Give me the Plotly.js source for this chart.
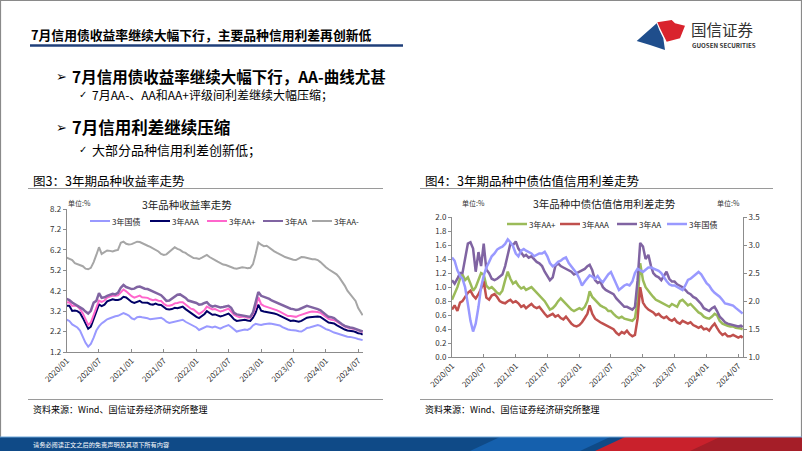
<!DOCTYPE html>
<html>
<head>
<meta charset="utf-8">
<script src="https://cdn.plot.ly/plotly-3.0.1.min.js"></script>
<style>
html,body{margin:0;padding:0;background:#fff;}
#chart{width:802px;height:451px;}
</style>
</head>
<body>
<div id="chart"></div>
<script>
// ---------- data ----------
const dates = [
'2020-01-01','2020-01-16','2020-02-01','2020-02-16','2020-03-01','2020-03-16','2020-04-01','2020-04-16','2020-05-01','2020-05-16','2020-06-01','2020-06-16','2020-07-01','2020-07-16','2020-08-01','2020-08-16','2020-09-01','2020-09-16','2020-10-01','2020-10-16','2020-11-01','2020-11-16','2020-12-01','2020-12-16',
'2021-01-01','2021-01-16','2021-02-01','2021-02-16','2021-03-01','2021-03-16','2021-04-01','2021-04-16','2021-05-01','2021-05-16','2021-06-01','2021-06-16','2021-07-01','2021-07-16','2021-08-01','2021-08-16','2021-09-01','2021-09-16','2021-10-01','2021-10-16','2021-11-01','2021-11-16','2021-12-01','2021-12-16',
'2022-01-01','2022-01-16','2022-02-01','2022-02-16','2022-03-01','2022-03-16','2022-04-01','2022-04-16','2022-05-01','2022-05-16','2022-06-01','2022-06-16','2022-07-01','2022-07-16','2022-08-01','2022-08-16','2022-09-01','2022-09-16','2022-10-01','2022-10-16','2022-11-01','2022-11-16','2022-12-01','2022-12-16',
'2023-01-01','2023-01-16','2023-02-01','2023-02-16','2023-03-01','2023-03-16','2023-04-01','2023-04-16','2023-05-01','2023-05-16','2023-06-01','2023-06-16','2023-07-01','2023-07-16','2023-08-01','2023-08-16','2023-09-01','2023-09-16','2023-10-01','2023-10-16','2023-11-01','2023-11-16','2023-12-01','2023-12-16',
'2024-01-01','2024-01-16','2024-02-01','2024-02-16','2024-03-01','2024-03-16','2024-04-01','2024-04-16','2024-05-01','2024-05-16','2024-06-01','2024-06-16','2024-07-01','2024-07-16','2024-07-26'
];

// Chart 1: 3-year yields (%)
const yGov = [
2.78,2.72,2.55,2.45,2.40,2.25,1.95,1.65,1.46,1.60,1.90,2.25,2.45,2.60,2.70,2.80,2.85,2.92,2.95,2.97,3.02,3.10,3.05,2.98,
2.85,2.80,2.90,2.93,2.90,2.88,2.85,2.80,2.82,2.85,2.85,2.88,2.80,2.68,2.62,2.65,2.70,2.72,2.76,2.78,2.68,2.62,2.55,2.50,
2.40,2.28,2.35,2.42,2.46,2.44,2.40,2.45,2.38,2.34,2.42,2.48,2.52,2.42,2.30,2.20,2.24,2.28,2.30,2.28,2.35,2.50,2.58,2.55,
2.52,2.56,2.60,2.60,2.58,2.55,2.54,2.50,2.42,2.36,2.30,2.28,2.28,2.25,2.22,2.20,2.28,2.38,2.40,2.44,2.48,2.52,2.48,2.40,
2.32,2.28,2.20,2.15,2.12,2.08,2.02,1.96,1.95,1.94,1.92,1.88,1.84,1.80,1.78];
const yAAA = [
3.46,3.46,3.21,3.23,3.20,3.11,2.87,2.60,2.34,2.44,2.80,3.23,3.53,3.45,3.52,3.68,3.75,3.78,3.75,3.75,3.79,3.90,3.87,3.76,
3.65,3.60,3.66,3.70,3.62,3.61,3.61,3.54,3.52,3.57,3.51,3.50,3.38,3.30,3.28,3.30,3.36,3.34,3.38,3.42,3.30,3.20,3.10,3.04,
2.92,2.86,2.95,3.06,3.20,3.10,3.02,3.04,2.98,2.94,2.98,3.04,3.08,2.96,2.80,2.72,2.74,2.76,2.78,2.74,2.72,2.88,3.13,3.52,
3.22,3.18,3.16,3.14,3.12,3.08,3.04,2.98,2.90,2.86,2.76,2.72,2.74,2.70,2.68,2.72,2.80,2.88,2.90,2.92,2.94,2.94,2.92,2.82,
2.72,2.64,2.62,2.60,2.52,2.44,2.36,2.30,2.25,2.24,2.22,2.18,2.12,2.10,2.05];
const yAAp = [
3.62,3.64,3.45,3.47,3.44,3.30,3.09,2.78,2.52,2.64,3.02,3.45,3.71,3.65,3.72,3.86,3.93,3.96,3.95,3.97,4.12,4.26,4.17,4.04,
3.93,3.86,3.92,3.96,3.88,3.86,3.85,3.78,3.74,3.77,3.71,3.70,3.56,3.48,3.46,3.50,3.58,3.60,3.64,3.64,3.52,3.42,3.32,3.28,
3.16,3.06,3.15,3.26,3.42,3.34,3.28,3.30,3.22,3.18,3.22,3.26,3.32,3.18,3.03,2.96,2.90,2.92,2.92,2.88,2.88,3.06,3.39,3.88,
3.54,3.46,3.42,3.38,3.34,3.30,3.24,3.18,3.10,3.04,2.96,2.96,2.94,2.92,2.98,3.02,3.08,3.14,3.16,3.18,3.18,3.16,3.12,3.02,
2.90,2.82,2.78,2.76,2.70,2.60,2.52,2.44,2.40,2.38,2.35,2.31,2.26,2.22,2.17];
const yAA = [
3.80,3.74,3.62,3.55,3.48,3.40,3.30,3.18,3.08,3.22,3.62,3.70,4.08,3.85,3.88,3.95,4.02,4.05,4.02,4.10,4.35,4.48,4.38,4.32,
4.28,4.30,4.38,4.40,4.34,4.30,4.28,4.22,4.18,4.12,4.05,3.98,3.85,3.70,3.72,3.82,3.92,4.00,4.02,3.95,3.85,3.72,3.68,3.62,
3.60,3.52,3.54,3.60,3.64,3.50,3.42,3.46,3.42,3.38,3.40,3.44,3.46,3.36,3.12,3.04,3.02,2.98,2.96,2.94,2.92,3.14,3.65,4.14,
3.95,3.90,3.86,3.80,3.72,3.66,3.62,3.56,3.48,3.42,3.36,3.32,3.30,3.26,3.28,3.34,3.40,3.46,3.42,3.38,3.36,3.30,3.24,3.12,
3.00,2.92,2.90,2.86,2.76,2.64,2.56,2.48,2.42,2.40,2.38,2.34,2.28,2.24,2.20];
const yAAm = [
5.82,5.75,5.70,5.55,5.50,5.46,5.40,5.28,5.25,5.32,5.60,5.95,6.33,6.00,6.10,6.17,6.15,6.12,6.17,6.20,6.55,6.60,6.50,6.46,
6.48,6.55,6.60,6.58,6.52,6.46,6.40,6.35,6.28,6.20,6.12,6.00,5.95,5.98,6.10,6.22,6.33,6.25,6.20,6.10,6.05,5.95,5.88,5.80,
5.79,5.75,5.82,5.88,5.95,5.85,5.75,5.70,5.62,5.55,5.48,5.46,5.40,5.35,5.30,5.28,5.32,5.35,5.33,5.30,5.32,5.50,6.00,6.56,
6.45,6.38,6.40,6.30,6.20,6.13,6.05,6.00,5.92,5.85,5.80,5.76,5.72,5.70,5.78,5.85,5.84,5.80,5.76,5.74,5.74,5.70,5.60,5.46,
5.35,5.25,5.15,5.05,5.00,4.85,4.65,4.45,4.20,4.05,3.85,3.70,3.35,3.15,3.00];

// Chart 2: 3-year credit spreads (%), treasury yield on right axis (yGov)
const sAAp = [
0.82,0.90,1.00,1.12,1.18,1.10,1.14,1.05,0.95,1.00,1.12,1.20,1.18,1.02,0.98,1.00,0.96,0.92,0.90,0.95,1.10,1.22,1.12,1.05,
1.08,1.02,0.98,1.00,0.96,0.98,1.00,0.96,0.92,0.88,0.84,0.80,0.74,0.68,0.70,0.74,0.80,0.84,0.80,0.76,0.72,0.68,0.66,0.68,
0.70,0.68,0.72,0.80,0.94,0.86,0.82,0.78,0.74,0.72,0.70,0.66,0.66,0.62,0.58,0.56,0.58,0.55,0.54,0.53,0.52,0.56,0.80,1.34,
1.10,1.00,0.94,0.90,0.86,0.82,0.80,0.78,0.76,0.74,0.72,0.76,0.74,0.72,0.80,0.82,0.78,0.74,0.76,0.72,0.68,0.64,0.62,0.58,
0.56,0.55,0.58,0.62,0.60,0.52,0.48,0.46,0.45,0.44,0.44,0.42,0.42,0.41,0.40];
const sAAA = [
0.68,0.74,0.66,0.78,0.80,0.86,0.92,0.95,0.88,0.84,0.90,0.98,1.08,0.85,0.82,0.88,0.90,0.86,0.80,0.78,0.77,0.80,0.82,0.78,
0.80,0.77,0.72,0.74,0.70,0.73,0.76,0.72,0.70,0.72,0.66,0.62,0.58,0.60,0.62,0.58,0.60,0.56,0.54,0.58,0.52,0.48,0.45,0.44,
0.46,0.50,0.56,0.62,0.74,0.62,0.55,0.52,0.50,0.48,0.46,0.44,0.42,0.40,0.35,0.32,0.36,0.34,0.38,0.33,0.30,0.32,0.55,1.00,
0.78,0.72,0.68,0.66,0.64,0.60,0.62,0.58,0.56,0.58,0.54,0.52,0.55,0.50,0.48,0.52,0.50,0.48,0.50,0.46,0.44,0.42,0.44,0.40,
0.41,0.38,0.44,0.48,0.42,0.36,0.32,0.34,0.30,0.30,0.32,0.30,0.28,0.30,0.28];
const sAA = [
1.10,1.05,1.12,1.20,1.20,1.38,1.62,1.64,1.55,1.22,1.50,1.30,1.62,1.25,1.20,1.12,1.10,1.12,1.15,1.18,1.30,1.44,1.62,1.60,
1.65,1.55,1.50,1.44,1.46,1.42,1.44,1.40,1.36,1.34,1.30,1.22,1.15,1.10,1.14,1.30,1.34,1.30,1.28,1.26,1.24,1.22,1.18,1.20,
1.22,1.24,1.26,1.30,1.32,1.24,1.10,1.06,1.08,1.00,0.96,0.94,0.92,0.90,0.84,0.80,0.76,0.72,0.72,0.70,0.68,0.72,1.10,1.63,
1.58,1.40,1.46,1.30,1.20,1.16,1.14,1.10,1.16,1.22,1.12,1.08,1.08,1.04,1.02,1.00,0.96,0.92,0.90,0.86,0.84,0.80,0.76,0.70,
0.68,0.66,0.70,0.72,0.66,0.58,0.54,0.50,0.48,0.47,0.46,0.45,0.44,0.45,0.43];

const names1 = ['3年国债','3年AAA','3年AA+','3年AA','3年AA-'];
const names2 = ['3年AA+','3年AAA','3年AA','3年国债'];
const xTickVals = ['2020-01-01','2020-07-01','2021-01-01','2021-07-01','2022-01-01','2022-07-01','2023-01-01','2023-07-01','2024-01-01','2024-07-01'];
const xTickText = ['2020/01','2020/07','2021/01','2021/07','2022/01','2022/07','2023/01','2023/07','2024/01','2024/07'];
const yTicks1 = [1.2,2.2,3.2,4.2,5.2,6.2,7.2,8.2];
const yTicks2 = [0,0.2,0.4,0.6,0.8,1.0,1.2,1.4,1.6,1.8,2.0];
const yTicks3 = [1.0,1.5,2.0,2.5,3.0,3.5];

// ---------- styling ----------
const W = 802, H = 451;
const fx = x => x / W;
const fy = y => 1 - y / H;
const FONT = "'Noto Sans CJK SC', 'DejaVu Sans', sans-serif";
const SYM = "'DejaVu Sans', sans-serif";
const colors1 = ['#9999FF','#000066','#FF66CC','#8064A2','#A6A6A6'];
const widths1 = [2,2,2,2.5,2];
const colors2 = ['#9BBB59','#C0504D','#8064A2','#9999FF'];

const series1 = [yGov, yAAA, yAAp, yAA, yAAm];
const series2 = [sAAp, sAAA, sAA, yGov];

const traces = [];
series1.forEach((s, i) => traces.push({
  x: dates, y: s, name: names1[i], type: 'scatter', mode: 'lines',
  xaxis: 'x', yaxis: 'y', line: {color: colors1[i], width: widths1[i]}
}));
series2.forEach((s, i) => traces.push({
  x: dates, y: s, name: names2[i], type: 'scatter', mode: 'lines',
  xaxis: 'x2', yaxis: i === 3 ? 'y3' : 'y2', line: {color: colors2[i], width: 2.5}
}));

const axisCommon = {
  showgrid: false, zeroline: false, showline: true, linecolor: '#8c8c8c', linewidth: 1,
  tickfont: {family: FONT, size: 8, color: '#333'}, ticklen: 3, tickcolor: '#8c8c8c', fixedrange: true
};
const xCommon = Object.assign({}, axisCommon, {
  type: 'date', range: ['2020-01-01', '2024-07-28'], tickmode: 'array',
  tickvals: xTickVals, ticktext: xTickText, tickangle: -45, ticks: 'inside'
});

const shapes = [];
const annotations = [];
function line(x0, y0, x1, y1, color, width) {
  shapes.push({type: 'line', xref: 'paper', yref: 'paper', x0: fx(x0), y0: fy(y0), x1: fx(x1), y1: fy(y1),
    line: {color: color, width: width}});
}
function poly(pts, color) {
  const d = pts.map((p, i) => (i ? 'L' : 'M') + fx(p[0]).toFixed(5) + ',' + fy(p[1]).toFixed(5)).join(' ') + ' Z';
  shapes.push({type: 'path', xref: 'paper', yref: 'paper', path: d, fillcolor: color, line: {width: 0}});
}
function text(t, x, y, size, opts) {
  opts = opts || {};
  annotations.push({text: t, x: fx(x), y: fy(y), xref: 'paper', yref: 'paper', showarrow: false,
    xanchor: opts.anchor || 'left', yanchor: 'middle', borderpad: 0,
    font: {family: opts.family || FONT, size: size, color: opts.color || '#000'}});
}

// frame
shapes.push({type: 'rect', xref: 'paper', yref: 'paper', x0: fx(0.5), y0: fy(450.5), x1: fx(801.5), y1: fy(0.5),
  line: {color: '#8a8a8a', width: 1.2}});

// header
text('<b>7月信用债收益率继续大幅下行，主要品种信用利差再创新低</b>', 30, 34, 12.8);
line(30, 45.5, 403, 45.5, '#1F3F7A', 2.5);
// logo
poly([[656.7,23.3],[636.7,41],[650,45],[665,50],[663.3,38.3],[659.3,30]], '#1F4E8C');
poly([[657.3,22.3],[671.7,20],[675,23.3],[685,25.7],[680,38.3],[666.7,41.7],[663.3,35],[660,28.3]], '#D9232D');
text('国信证券', 690, 28.5, 15.5, {color: '#333'});
text('<b>GUOSEN SECURITIES</b>', 691, 45.5, 6.2, {color: '#333'});

// bullets
text('➢', 55, 76.5, 13, {family: SYM});
text('<b>7月信用债收益率继续大幅下行，AA-曲线尤甚</b>', 71, 76, 15.5);
text('✓', 78, 94, 10, {family: SYM});
text('7月AA-、AA和AA+评级间利差继续大幅压缩；', 91, 94, 12);
text('➢', 55, 127, 13, {family: SYM});
text('<b>7月信用利差继续压缩</b>', 71, 127, 16.5);
text('✓', 78, 149.5, 10, {family: SYM});
text('大部分品种信用利差创新低；', 91, 149.5, 13);

// chart frames / captions
text('图3：3年期品种收益率走势', 32, 180.5, 12.5);
line(28, 188.5, 383, 188.5, '#9a9a9a', 1);
line(28, 399.5, 383, 399.5, '#9a9a9a', 1);
text('资料来源：Wind、国信证券经济研究所整理', 32, 409.5, 9);
text('图4：3年期品种中债估值信用利差走势', 424, 180.5, 12.5);
line(420, 188.5, 773, 188.5, '#9a9a9a', 1);
line(420, 399.5, 773, 399.5, '#9a9a9a', 1);
text('资料来源：Wind、国信证券经济研究所整理', 424, 409.5, 9);

// chart titles and units
text('单位:%', 67, 203, 7, {color: '#333'});
text('3年品种收益率走势', 187, 204.5, 10.5, {anchor: 'center', color: '#222'});
text('单位:%', 461, 203, 7, {color: '#333'});
text('单位:%', 716, 203, 7, {color: '#333'});
text('3年品种中债估值信用利差走势', 604, 203.5, 10.5, {anchor: 'center', color: '#222'});

// legends
const legendX1 = [90, 150, 207, 263, 312];
names1.forEach((n, i) => {
  line(legendX1[i], 221, legendX1[i] + 20, 221, colors1[i], 2);
  text(n, legendX1[i] + 21, 221, 8, {color: '#222'});
});
const legendX2 = [507, 560, 617, 667];
names2.forEach((n, i) => {
  line(legendX2[i], 224, legendX2[i] + 20, 224, colors2[i], 2.5);
  text(n, legendX2[i] + 21, 224, 8, {color: '#222'});
});

// footer
shapes.push({type: 'rect', xref: 'paper', yref: 'paper', x0: 0, y0: 0, x1: 1, y1: fy(437),
  fillcolor: '#0f4a87', line: {width: 0}});
poly([[470,451],[500,437],[610,437],[580,451]], '#1560ad');
poly([[595,451],[625,437],[802,437],[802,451]], '#c9212c');
poly([[690,451],[720,437],[802,437],[802,451]], '#a51e28');
line(0, 437, 802, 437, '#6fa6d8', 1);
text('请务必阅读正文之后的免责声明及其项下所有内容', 32, 444, 6.2, {color: '#fff'});

const layout = {
  width: W, height: H, margin: {l: 0, r: 0, t: 0, b: 0},
  paper_bgcolor: '#fff', plot_bgcolor: 'rgba(0,0,0,0)', showlegend: false,
  font: {family: FONT},
  xaxis: Object.assign({}, xCommon, {domain: [fx(66.7), fx(363)], anchor: 'y'}),
  yaxis: Object.assign({}, axisCommon, {domain: [fy(352), fy(209)], anchor: 'x', range: [1.2, 8.2],
    tickmode: 'array', tickvals: yTicks1, tickformat: '.1f', ticks: 'outside'}),
  xaxis2: Object.assign({}, xCommon, {domain: [fx(452), fx(743)], anchor: 'y2'}),
  yaxis2: Object.assign({}, axisCommon, {domain: [fy(357.3), fy(217)], anchor: 'x2', range: [0, 2.0],
    tickmode: 'array', tickvals: yTicks2, tickformat: '.1f', ticks: 'outside'}),
  yaxis3: Object.assign({}, axisCommon, {overlaying: 'y2', side: 'right', anchor: 'x2', range: [1.0, 3.5],
    tickmode: 'array', tickvals: yTicks3, tickformat: '.1f', ticks: 'outside'}),
  shapes: shapes, annotations: annotations
};

Plotly.newPlot('chart', traces, layout, {staticPlot: true, displayModeBar: false});
</script>
</body>
</html>
